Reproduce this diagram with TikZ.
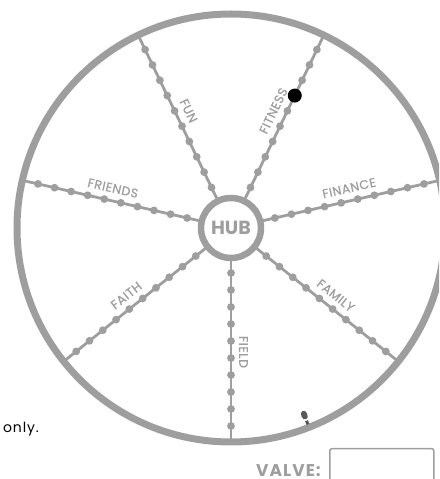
\documentclass[tikz,border=0pt]{standalone}
\usepackage{fontspec}
\setmainfont{Poppins}
\usetikzlibrary{positioning}
\definecolor{wheelgray}{RGB}{158,158,158}
\definecolor{valvegray}{RGB}{88,88,88}
\tikzset{
    rim/.style={draw=wheelgray, line width=7pt},
    spoke/.style={draw=wheelgray, line width=2.8pt},
    bead/.style={fill=wheelgray, circle, inner sep=0pt, minimum size=7.8pt},
    spokelabel/.style={text=wheelgray, inner sep=0pt, anchor=south,
        font=\fontsize{12.5}{12.5}\selectfont\addfontfeature{LetterSpace=4,FakeBold=0.6}},
}

\begin{document}
\begin{tikzpicture}[x=1pt, y=1pt]
    \useasboundingbox (0,0) rectangle (439,479);
    \clip (0,0) rectangle (439,479);

    % wheel
    \coordinate (c) at (231,251);
    \draw [rim] (c) circle (214);
    \node [draw=wheelgray, line width=6.5pt, circle, minimum size=60pt, inner sep=0pt,
        text=wheelgray, font=\bfseries\fontsize{19}{19}\selectfont] (hub) at (c) {HUB};

    % spokes with beads and labels
    \foreach \ang/\rot/\name/\lab in {270/-90/field/FIELD, 321.43/-38.57/family/FAMILY,
        12.86/12.86/finance/FINANCE, 64.29/64.29/fitness/FITNESS, 115.71/-64.29/fun/FUN,
        167.14/-12.86/friends/FRIENDS, 218.57/38.57/faith/FAITH}{
        \draw [spoke] ([shift={(\ang:33)}]c) coordinate (\name-in)
            -- ([shift={(\ang:211)}]c) coordinate (\name-out);
        \foreach \k in {0,...,9}
            \node [bead] (\name-\k) at ([shift={(\ang:45+17*\k)}]c) {};
        \coordinate (\name-mid) at ([shift={(\ang:124)}]c);
        \node [spokelabel, rotate=\rot] (\name-label) at ([shift={(\rot+90:8)}]\name-mid) {\lab};
    }

    % marker on the fitness spoke
    \node [fill=black, circle, inner sep=0pt, minimum size=14pt] (marker) at (fitness-6) {};

    % valve on the rim
    \begin{scope}[shift={([shift={(-68.6:211)}]c)}, rotate=111.4]
        \draw [valvegray, line width=3pt] (0,0) -- (4,0);
        \fill [valvegray] (10,0) ellipse (4.6 and 3.2);
        \draw [white, line width=0.8pt] (5.2,-3.4) -- (5.2,3.4);
    \end{scope}

    % text below
    \node [anchor=base west, inner sep=0pt, font=\fontsize{14}{14}\selectfont\addfontfeature{LetterSpace=6}]
        (only) at (3,46) {only.};
    \node [draw=wheelgray, line width=1.5pt, rounded corners=2pt, anchor=north west,
        minimum width=104pt, minimum height=40pt] (valvebox) at (329,31) {};
    \node [anchor=base east, inner sep=0pt, text=wheelgray,
        font=\bfseries\fontsize{17}{17}\selectfont\addfontfeature{LetterSpace=6}] (valvetext) at (321,2) {VALVE:};
\end{tikzpicture}
\end{document}
